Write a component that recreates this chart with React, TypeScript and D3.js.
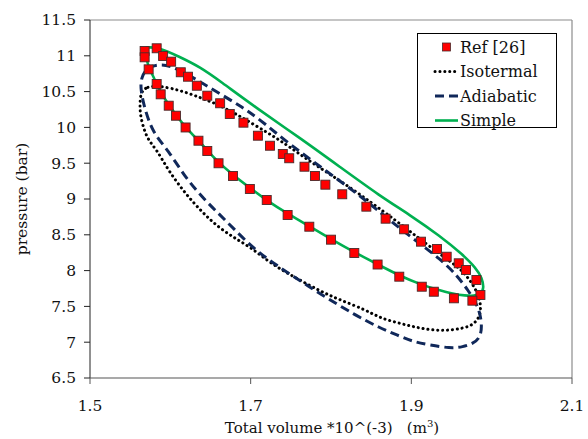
import React, { useRef, useEffect } from 'react';
import * as d3 from 'd3';

// [volume *10^-3 m3, pressure bar]
const refPoints: [number, number][] = [
  [1.568, 11.067], [1.583, 11.105], [1.591, 10.997], [1.601, 10.918], [1.613, 10.770],
  [1.622, 10.708], [1.633, 10.582], [1.646, 10.443], [1.662, 10.337], [1.674, 10.187],
  [1.691, 10.066], [1.709, 9.884], [1.724, 9.744], [1.740, 9.629], [1.748, 9.569],
  [1.767, 9.451], [1.780, 9.321], [1.793, 9.200], [1.814, 9.066], [1.844, 8.893],
  [1.868, 8.725], [1.891, 8.577], [1.912, 8.404], [1.932, 8.302], [1.944, 8.194],
  [1.959, 8.102], [1.968, 8.008], [1.981, 7.869], [1.986, 7.659], [1.976, 7.580],
  [1.953, 7.613], [1.928, 7.705], [1.913, 7.775], [1.885, 7.915], [1.858, 8.085],
  [1.829, 8.246], [1.800, 8.432], [1.773, 8.613], [1.746, 8.777], [1.720, 8.986],
  [1.699, 9.140], [1.678, 9.321], [1.660, 9.499], [1.646, 9.670], [1.635, 9.814],
  [1.619, 9.999], [1.607, 10.163], [1.598, 10.303], [1.588, 10.462], [1.583, 10.606],
  [1.573, 10.811], [1.568, 10.979],
];

// closed loops, first point not repeated at the end
const isotermal: [number, number][] = [
  [1.5635, 10.494], [1.571, 10.571], [1.5846, 10.578], [1.6021, 10.546], [1.622, 10.480],
  [1.6394, 10.406], [1.6556, 10.337], [1.6768, 10.219], [1.6967, 10.089], [1.7216, 9.922],
  [1.739, 9.800], [1.7589, 9.643], [1.7838, 9.451], [1.8174, 9.210], [1.851, 8.944],
  [1.8797, 8.707], [1.9008, 8.525], [1.9207, 8.358], [1.9456, 8.148], [1.9631, 8.008],
  [1.9755, 7.827], [1.983, 7.673], [1.9867, 7.520], [1.9855, 7.356], [1.9768, 7.240],
  [1.9643, 7.194], [1.9444, 7.161], [1.9232, 7.171], [1.9021, 7.217], [1.8822, 7.273],
  [1.861, 7.338], [1.8436, 7.450], [1.8112, 7.590], [1.7863, 7.715], [1.7552, 7.904],
  [1.7241, 8.106], [1.7017, 8.312], [1.6805, 8.451], [1.6593, 8.609], [1.6394, 8.819],
  [1.6183, 9.080], [1.5971, 9.405], [1.5834, 9.684], [1.5722, 9.824], [1.566, 10.010],
  [1.5622, 10.201], [1.5622, 10.359],
];

const adiabatic: [number, number][] = [
  [1.5635, 10.690], [1.571, 10.844], [1.5884, 10.885], [1.6021, 10.851], [1.6183, 10.760],
  [1.6394, 10.620], [1.6643, 10.453], [1.6892, 10.285], [1.7091, 10.131], [1.7465, 9.782],
  [1.7888, 9.433], [1.8299, 9.098], [1.8548, 8.874], [1.8958, 8.497], [1.9382, 8.148],
  [1.9581, 7.911], [1.9705, 7.729], [1.9805, 7.548], [1.9855, 7.408], [1.988, 7.212],
  [1.9855, 7.059], [1.9768, 6.982], [1.9643, 6.933], [1.9481, 6.915], [1.9232, 6.961],
  [1.9021, 7.007], [1.8822, 7.101], [1.861, 7.198], [1.8299, 7.380], [1.7888, 7.659],
  [1.7465, 7.967], [1.7079, 8.260], [1.6805, 8.567], [1.6593, 8.805], [1.6394, 9.028],
  [1.6183, 9.307], [1.5971, 9.684], [1.5784, 9.922], [1.5685, 10.243], [1.5629, 10.522],
];

const simple: [number, number][] = [
  [1.5697, 11.116], [1.5697, 11.116], [1.5846, 11.123], [1.612, 10.983], [1.6369, 10.844],
  [1.6618, 10.648], [1.7054, 10.285], [1.7614, 9.852], [1.8112, 9.447], [1.861, 9.042],
  [1.8983, 8.777], [1.9357, 8.483], [1.9631, 8.232], [1.9805, 8.036], [1.988, 7.897],
  [1.9905, 7.757], [1.9867, 7.673], [1.978, 7.645], [1.9668, 7.652], [1.9531, 7.673],
  [1.9295, 7.743], [1.9133, 7.799], [1.8859, 7.925], [1.8573, 8.092], [1.8286, 8.260],
  [1.8, 8.441], [1.7726, 8.623], [1.7465, 8.791], [1.7191, 8.986], [1.6992, 9.154],
  [1.678, 9.335], [1.6593, 9.517], [1.6456, 9.684], [1.6344, 9.824], [1.6183, 10.006],
  [1.6071, 10.173], [1.5983, 10.313], [1.5884, 10.480], [1.5809, 10.662], [1.5734, 10.830],
  [1.5697, 10.969],
];

const xTicks = [1.5, 1.7, 1.9, 2.1];
const yTicks = [6.5, 7, 7.5, 8, 8.5, 9, 9.5, 10, 10.5, 11, 11.5];

const GREEN = '#00b050';
const NAVY = '#10285a';
const RED = '#ff0000';
const FONT = '"DejaVu Serif", serif';
const DOTS = '0.1 4.8';
const DASHES = '9 5';

const App = () => {
  const ref = useRef<SVGSVGElement>(null);

  useEffect(() => {
    const svg = d3.select(ref.current);
    svg.selectAll('*').remove();

    const x = d3.scaleLinear().domain([1.5, 2.1]).range([90, 572]);
    const y = d3.scaleLinear().domain([6.5, 11.5]).range([378, 20]);

    // frame
    svg.append('line').attr('x1', 90).attr('x2', 572).attr('y1', 20).attr('y2', 20)
      .attr('stroke', '#8c8c8c').attr('stroke-width', 1.2);
    svg.append('line').attr('x1', 572).attr('x2', 572).attr('y1', 20).attr('y2', 378)
      .attr('stroke', '#8c8c8c').attr('stroke-width', 1.2);

    // y axis
    const gy = svg.append('g');
    gy.append('line').attr('x1', 90).attr('x2', 90).attr('y1', 20).attr('y2', 378)
      .attr('stroke', '#222').attr('stroke-width', 1);
    yTicks.forEach(t => {
      gy.append('line').attr('x1', 84).attr('x2', 90).attr('y1', y(t)).attr('y2', y(t))
        .attr('stroke', '#222');
      gy.append('text').attr('x', 76).attr('y', y(t)).attr('dy', '0.35em')
        .attr('text-anchor', 'end').style('font-family', FONT).style('font-size', '15.5px')
        .attr('fill', '#111').text(String(t));
    });

    // x axis
    const gx = svg.append('g');
    gx.append('line').attr('x1', 90).attr('x2', 572).attr('y1', 378).attr('y2', 378)
      .attr('stroke', '#555').attr('stroke-width', 1.2);
    xTicks.forEach(t => {
      gx.append('line').attr('x1', x(t)).attr('x2', x(t)).attr('y1', 378).attr('y2', 384)
        .attr('stroke', '#555');
      gx.append('text').attr('x', x(t)).attr('y', 411)
        .attr('text-anchor', 'middle').style('font-family', FONT).style('font-size', '15.5px')
        .attr('fill', '#111').text(t.toFixed(1));
    });

    // axis titles
    const xt = svg.append('text').attr('x', 332).attr('y', 433).attr('text-anchor', 'middle')
      .style('font-family', FONT).style('font-size', '15px').attr('fill', '#111')
      .style('white-space', 'pre');
    xt.append('tspan').text('Total volume *10^(-3)   (m');
    xt.append('tspan').attr('dy', -6).style('font-size', '10px').text('3');
    xt.append('tspan').attr('dy', 6).text(')');

    svg.append('text').attr('transform', 'translate(27,199) rotate(-90)')
      .attr('text-anchor', 'middle').style('font-family', FONT).style('font-size', '15.5px')
      .attr('fill', '#111').text('pressure (bar)');

    const loop = d3.line<[number, number]>()
      .x(d => x(d[0]))
      .y(d => y(d[1]))
      .curve(d3.curveBasisClosed);

    svg.append('path').datum(isotermal).attr('d', loop).attr('fill', 'none')
      .attr('stroke', '#000').attr('stroke-width', 3).attr('stroke-linecap', 'round')
      .attr('stroke-dasharray', DOTS);
    svg.append('path').datum(adiabatic).attr('d', loop).attr('fill', 'none')
      .attr('stroke', NAVY).attr('stroke-width', 3).attr('stroke-dasharray', DASHES);
    svg.append('path').datum(simple).attr('d', loop).attr('fill', 'none')
      .attr('stroke', GREEN).attr('stroke-width', 2.6).attr('stroke-linejoin', 'round');

    // reference markers
    svg.append('g').selectAll('rect').data(refPoints).join('rect')
      .attr('x', d => x(d[0]) - 4.5).attr('y', d => y(d[1]) - 4.5)
      .attr('width', 9).attr('height', 9)
      .attr('fill', RED).attr('stroke', '#4a2a2a').attr('stroke-width', 0.9);

    // legend
    const lg = svg.append('g');
    lg.append('rect').attr('x', 417.5).attr('y', 33.5).attr('width', 139).attr('height', 94)
      .attr('fill', '#fff').attr('stroke', '#000').attr('stroke-width', 1);
    const items = [
      { label: 'Ref [26]', kind: 'marker' },
      { label: 'Isotermal', kind: 'dot' },
      { label: 'Adiabatic', kind: 'dash' },
      { label: 'Simple', kind: 'solid' },
    ];
    items.forEach((it, i) => {
      const cy = 47 + i * 24.5;
      if (it.kind === 'marker') {
        lg.append('rect').attr('x', 442.5).attr('y', cy - 4).attr('width', 8).attr('height', 8)
          .attr('fill', RED).attr('stroke', '#4a2a2a').attr('stroke-width', 0.8);
      } else {
        const l = lg.append('line').attr('x1', 435).attr('x2', 458).attr('y1', cy).attr('y2', cy);
        if (it.kind === 'dot') {
          l.attr('stroke', '#000').attr('stroke-width', 3).attr('stroke-linecap', 'round')
            .attr('stroke-dasharray', DOTS);
        } else if (it.kind === 'dash') {
          l.attr('stroke', NAVY).attr('stroke-width', 3).attr('stroke-dasharray', DASHES);
        } else {
          l.attr('stroke', GREEN).attr('stroke-width', 2.6);
        }
      }
      lg.append('text').attr('x', 460).attr('y', cy).attr('dy', '0.35em')
        .style('font-family', FONT).style('font-size', '16px').attr('fill', '#111')
        .text(it.label);
    });

    return () => {
      svg.selectAll('*').remove();
    };
  }, []);

  return (
    <svg
      ref={ref}
      width={588}
      height={439}
      style={{ position: 'absolute', left: 0, top: 0, background: '#fff' }}
    />
  );
};

export default App;
